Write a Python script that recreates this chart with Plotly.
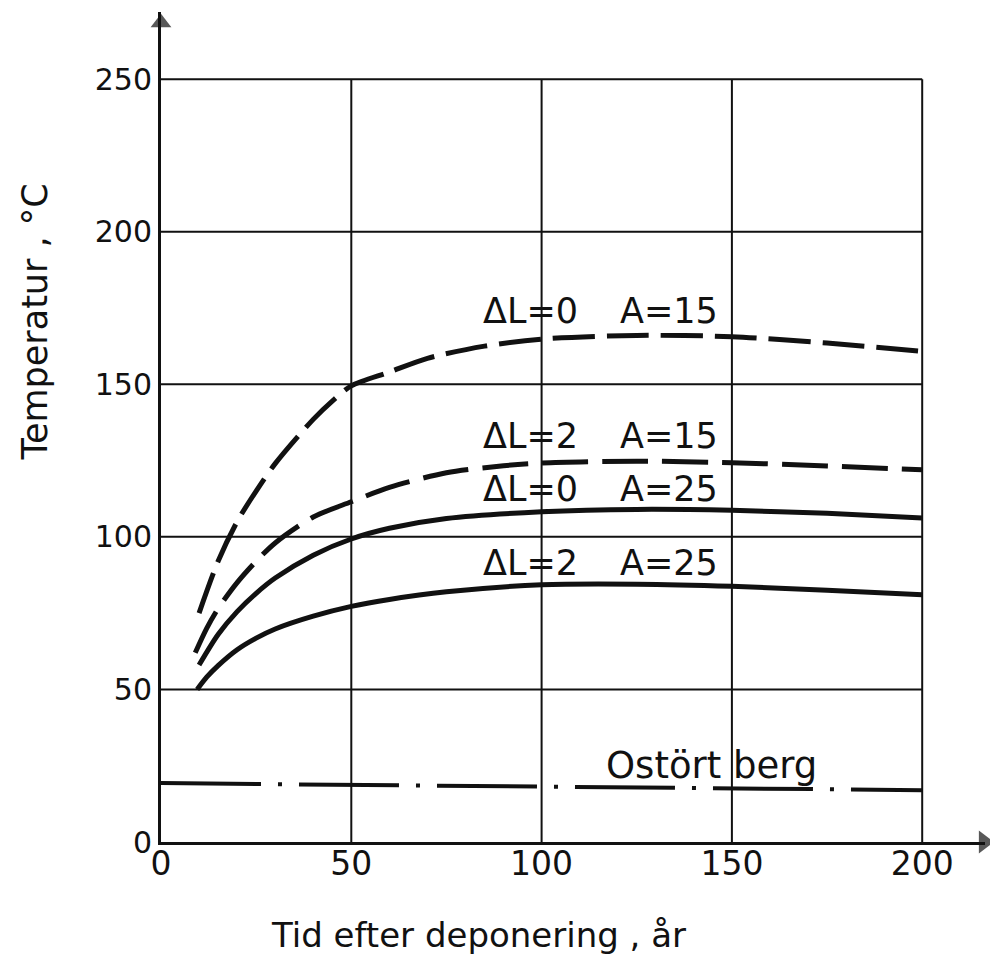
import plotly.graph_objects as go

# ---- data ----
x_a = [10, 15, 20, 25, 30, 40, 45, 50, 60, 70, 85, 100, 125, 150, 175, 200]
t_dl0_a15 = [75, 92, 105, 115, 124, 138.5, 144.5, 149.5, 154, 158.5, 162.5, 164.8, 166, 165.6, 163.5, 160.8]

x_b = [9, 12, 15, 20, 25, 30, 40, 50, 60, 75, 90, 100, 125, 150, 175, 200]
t_dl2_a15 = [62, 70, 76.5, 85, 92, 98, 106.5, 111.5, 116.2, 121, 123.3, 124.2, 124.8, 124.3, 123.2, 122]

x_c = [10, 15, 20, 25, 30, 40, 50, 60, 75, 100, 125, 150, 175, 200]
t_dl0_a25 = [58, 68, 75.5, 81.5, 86.5, 94, 99.3, 102.8, 106, 108.2, 109, 108.7, 107.7, 106.2]

x_d = [9.5, 12, 15, 20, 25, 30, 40, 50, 60, 75, 100, 125, 150, 175, 200]
t_dl2_a25 = [50, 54, 57.8, 63, 66.8, 69.8, 74, 77.2, 79.5, 82, 84.3, 84.5, 83.8, 82.5, 81]

x_rock = [0, 100, 200]
t_rock = [19.3, 18.3, 17.0]

x_ticks = [0, 50, 100, 150, 200]
y_ticks = [0, 50, 100, 150, 200, 250]

labels_dl = ["ΔL=0", "ΔL=2", "ΔL=0", "ΔL=2"]
labels_a = ["A=15", "A=15", "A=25", "A=25"]
label_y = [174, 133.2, 115.8, 91.5]
rock_label = "Ostört berg"

x_title = "Tid efter deponering , år"
y_title = "Temperatur , °C"

INK = "#111111"
FONT = "DejaVu Sans"

fig = go.Figure()

# grid lines (inside 0..200 x 0..250 box)
for xv in x_ticks[1:]:
    fig.add_shape(type="line", x0=xv, x1=xv, y0=0, y1=y_ticks[-1], xref="x", yref="y",
                  line=dict(color=INK, width=2), layer="below")
for yv in y_ticks[1:]:
    fig.add_shape(type="line", x0=0, x1=x_ticks[-1], y0=yv, y1=yv, xref="x", yref="y",
                  line=dict(color=INK, width=2), layer="below")

series = [
    (x_a, t_dl0_a15, "42px,12px"),
    (x_b, t_dl2_a15, "46px,14px"),
    (x_c, t_dl0_a25, "solid"),
    (x_d, t_dl2_a25, "solid"),
]
for xs, ys, dash in series:
    fig.add_trace(go.Scatter(x=xs, y=ys, mode="lines",
                             line=dict(color=INK, width=5, dash=dash, shape="spline", smoothing=0.8),
                             hoverinfo="skip"))

fig.add_trace(go.Scatter(x=x_rock, y=t_rock, mode="lines",
                         line=dict(color=INK, width=4, dash="100px,17px,4px,17px"),
                         hoverinfo="skip"))

# axis arrow heads
fig.add_trace(go.Scatter(x=[216.2], y=[0], mode="markers",
                         marker=dict(symbol="triangle-right", size=[20], color=INK,
                                     line=dict(width=0)), cliponaxis=False, hoverinfo="skip"))
fig.add_trace(go.Scatter(x=[0], y=[268.5], mode="markers",
                         marker=dict(symbol="triangle-up", size=[18], color=INK,
                                     line=dict(width=0)), cliponaxis=False, hoverinfo="skip"))

# curve labels
for dl, a, yv in zip(labels_dl, labels_a, label_y):
    fig.add_annotation(x=84, y=yv, text=dl, showarrow=False, xanchor="left", yanchor="middle",
                       font=dict(family=FONT, size=35, color=INK))
    fig.add_annotation(x=120, y=yv, text=a, showarrow=False, xanchor="left", yanchor="middle",
                       font=dict(family=FONT, size=35, color=INK))
fig.add_annotation(x=116.5, y=25, text=rock_label, showarrow=False, xanchor="left",
                   yanchor="middle", font=dict(family=FONT, size=37, color=INK))

# axis titles
fig.add_annotation(x=0.385, xref="paper", y=-0.112, yref="paper", text=x_title,
                   showarrow=False, font=dict(family=FONT, size=34, color=INK),
                   xanchor="center", yanchor="middle")
fig.add_annotation(x=-0.153, xref="paper", y=0.627, yref="paper", text=y_title, textangle=-90,
                   showarrow=False, font=dict(family=FONT, size=35, color=INK),
                   xanchor="center", yanchor="middle")

fig.update_xaxes(range=[0, 216.5], tickvals=x_ticks, ticktext=[str(v) for v in x_ticks],
                 showgrid=False, zeroline=False, showline=True, linecolor=INK, linewidth=3,
                 ticks="", tickfont=dict(family=FONT, size=33, color=INK), ticklabelstandoff=-10)
fig.update_yaxes(range=[0, 272], tickvals=y_ticks, ticktext=[str(v) for v in y_ticks],
                 showgrid=False, zeroline=False, showline=True, linecolor=INK, linewidth=3,
                 ticks="", tickfont=dict(family=FONT, size=30, color=INK), ticklabelstandoff=0)

fig.update_layout(width=990, height=966, showlegend=False,
                  margin=dict(l=161, r=5, t=12, b=124),
                  plot_bgcolor="white", paper_bgcolor="white")

fig.write_html("out.html")
